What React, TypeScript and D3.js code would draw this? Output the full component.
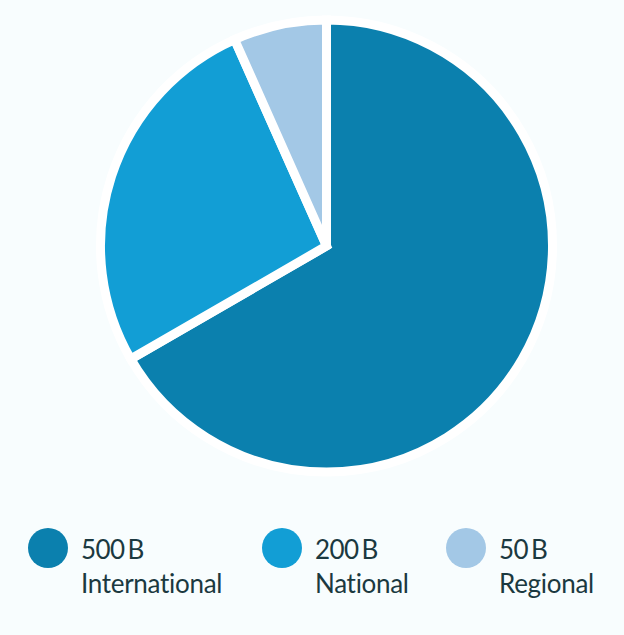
import React from "react";
import * as d3 from "d3";

const categories = ["International", "National", "Regional"];
const values = [500, 200, 50];
const valueLabels = ["500 B", "200 B", "50 B"];
const colors = ["#0b80ae", "#129ed5", "#a3c8e6"];

const W = 624;
const H = 635;

export default function App() {
  const cx = 326.5;
  const cy = 246;
  const r = 226;
  const pie = d3.pie<number>().sort(null).value((d) => d);
  const arcs = pie(values);
  const arc = d3.arc<d3.PieArcDatum<number>>().innerRadius(0).outerRadius(r);
  const legendX = [48, 282, 466];
  return (
    <svg
      width={W}
      height={H}
      style={{ position: "absolute", left: 0, top: 0, background: "#f8fdfe" }}
    >
      <rect width={W} height={H} fill="#f8fdfe" />
      <g transform={`translate(${cx},${cy})`}>
        {arcs.map((a, i) => (
          <path
            key={i}
            d={arc(a) || ""}
            fill={colors[i]}
            stroke="#ffffff"
            strokeWidth={9}
            strokeLinejoin="miter"
          />
        ))}
      </g>
      {categories.map((c, i) => (
        <g key={c} transform={`translate(${legendX[i]},548)`}>
          <circle r={20} fill={colors[i]} />
          <text
            x={33}
            y={11}
            fontFamily="Lato, 'Open Sans', sans-serif"
            fontSize={26}
            letterSpacing={-0.6}
            wordSpacing={-3}
            fill="#1b3940"
          >
            {valueLabels[i]}
          </text>
          <text
            x={33}
            y={45}
            fontFamily="Lato, 'Open Sans', sans-serif"
            fontSize={26}
            letterSpacing={-0.3}
            fill="#1b3940"
          >
            {c}
          </text>
        </g>
      ))}
    </svg>
  );
}
